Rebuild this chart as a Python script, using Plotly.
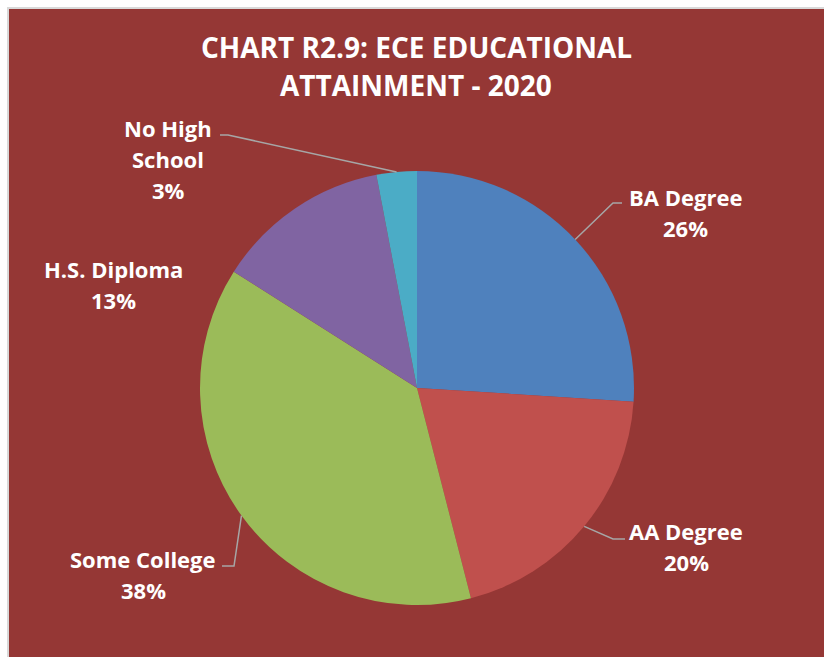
import math
import plotly.graph_objects as go

# ---- data ----
categories = ["BA Degree", "AA Degree", "Some College", "H.S. Diploma", "No High School"]
label_lines = [["BA Degree"], ["AA Degree"], ["Some College"], ["H.S. Diploma"], ["No High", "School"]]
shares = [26, 20, 38, 13, 3]
colors = ["#4F81BD", "#C0504D", "#9BBB59", "#8064A2", "#4BACC6"]
title_lines = ["CHART R2.9: ECE EDUCATIONAL", "ATTAINMENT - 2020"]

# ---- layout constants (pixels) ----
W, H = 824, 657
CX, CY, R = 417, 388, 217
BG = "#953735"
FONT = "Open Sans"

def px(x):
    return x / W

def py(y):
    return 1 - y / H

# label placement (first line centre) and leader-line elbows, per slice
label_pos = [(685, 197), (686, 531), (143, 559), (113, 269), (168, 128)]
elbows = [[(613, 203), (622, 203)],
          [(613, 539), (625, 539)],
          [(234, 566), (222, 566)],
          None,
          [(228, 135), (220, 135)]]
LINE_GAP = 31

fig = go.Figure()
fig.add_trace(go.Pie(
    labels=categories, values=shares, sort=False, direction="clockwise", rotation=0,
    marker=dict(colors=colors, line=dict(width=0)),
    textinfo="none", hoverinfo="label+percent", showlegend=False,
    domain=dict(x=[px(CX - R), px(CX + R)], y=[py(CY + R), py(CY - R)]),
))

shapes = [dict(type="rect", xref="paper", yref="paper",
               x0=px(8), x1=1.01, y0=-0.01, y1=py(8),
               fillcolor=BG, line=dict(color="#D9D9D9", width=2), layer="below")]
annotations = []

total = sum(shares)
cum = 0
for i, v in enumerate(shares):
    mid = (cum + v / 2) / total * 2 * math.pi
    cum += v
    sx = CX + R * math.sin(mid)
    sy = CY - R * math.cos(mid)
    if elbows[i]:
        pts = [(sx, sy)] + elbows[i]
        path = "M " + " L ".join(f"{px(x)},{py(y)}" for x, y in pts)
        shapes.append(dict(type="path", xref="paper", yref="paper", path=path,
                           line=dict(color="#A6A6A6", width=1.5)))
    lx, ly = label_pos[i]
    lines = label_lines[i] + [f"{v}%"]
    for j, t in enumerate(lines):
        annotations.append(dict(text=t, x=px(lx), y=py(ly + j * LINE_GAP), xref="paper", yref="paper",
                                showarrow=False, xanchor="center", yanchor="middle",
                                font=dict(family=FONT, size=22, color="white", weight="bold")))

for j, t in enumerate(title_lines):
    annotations.append(dict(text=t, x=px(416), y=py(47 + j * 38), xref="paper", yref="paper",
                            showarrow=False, xanchor="center", yanchor="middle",
                            font=dict(family=FONT, size=28, color="white", weight="bold")))

fig.update_layout(width=W, height=H, margin=dict(l=0, r=0, t=0, b=0),
                  paper_bgcolor="white", plot_bgcolor="white",
                  shapes=shapes, annotations=annotations)
fig.write_html("out.html")
